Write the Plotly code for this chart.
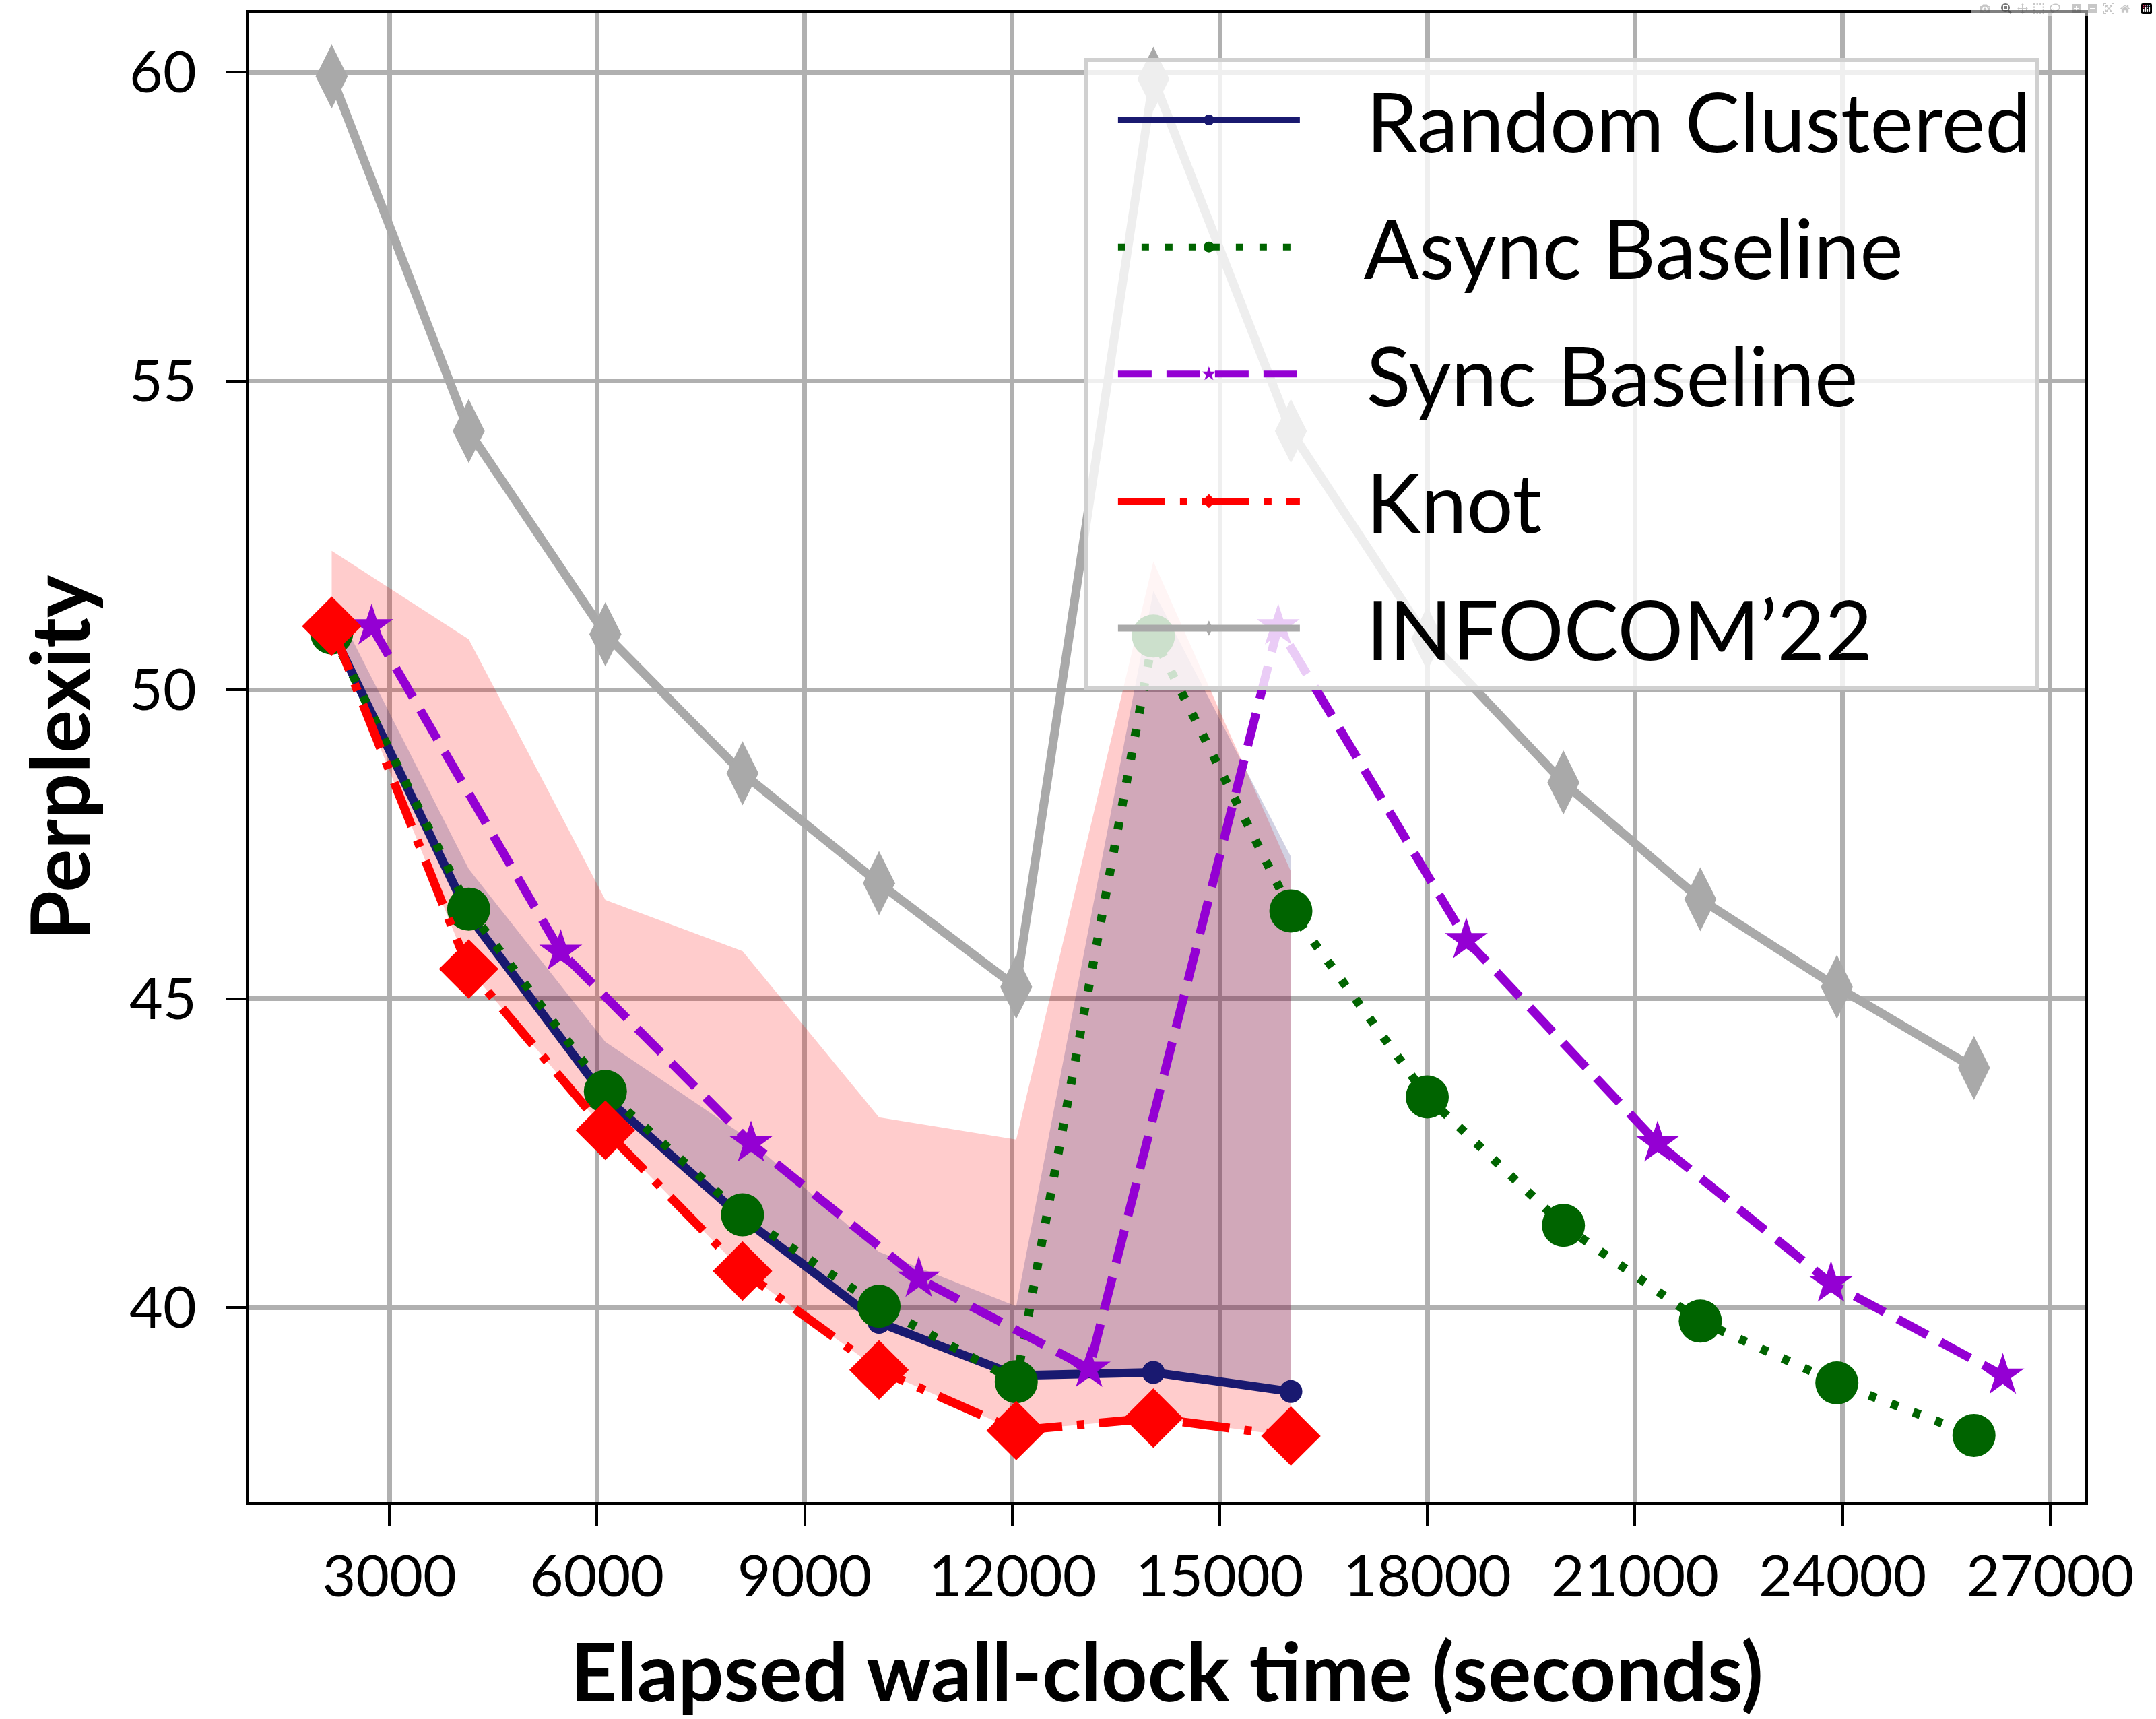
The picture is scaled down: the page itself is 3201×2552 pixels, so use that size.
import plotly.graph_objects as go

# ---------------- data ----------------
time_main = [2165, 4145, 6120, 8102, 10075, 12058, 14040, 16027, 17998, 19966, 21944, 23918, 25899]
time_sync = [2742, 5475, 8225, 10649, 13111, 15844, 18562, 21326, 23833, 26316]
time_short = time_main[:8]

random_clustered = [50.96, 46.35, 43.40, 41.45, 39.76, 38.90, 38.95, 38.64]
rc_upper = [51.47, 47.10, 44.30, 42.80, 40.90, 40.02, 51.60, 47.30]

async_baseline = [50.92, 46.45, 43.50, 41.50, 40.02, 38.80, 50.87, 46.42, 43.41, 41.33, 39.78, 38.78, 37.93]

sync_baseline = [51.03, 45.76, 42.66, 40.47, 39.01, 51.03, 45.95, 42.66, 40.39, 38.90]

knot = [51.03, 45.48, 42.87, 40.59, 38.99, 38.01, 38.21, 37.92]
knot_upper = [52.25, 50.82, 46.60, 45.77, 43.08, 42.72, 52.08, 47.06]

infocom = [59.93, 54.19, 50.90, 48.65, 46.87, 45.19, 59.89, 54.19, 50.83, 48.50, 46.61, 45.19, 43.88]

x_ticks = [3000, 6000, 9000, 12000, 15000, 18000, 21000, 24000, 27000]
y_ticks = [40, 45, 50, 55, 60]

FONT = "Lato"
PAD = "\u00a0\u00a0\u00a0"

fig = go.Figure()

# shaded bands
fig.add_trace(go.Scatter(
    x=time_short + time_short[::-1], y=knot_upper + knot[::-1],
    fill="toself", fillcolor="rgba(255,0,0,0.2)", mode="lines",
    line=dict(width=0), showlegend=False, hoverinfo="skip"))
fig.add_trace(go.Scatter(
    x=time_short + time_short[::-1], y=rc_upper + random_clustered[::-1],
    fill="toself", fillcolor="rgba(25,25,112,0.2)", mode="lines",
    line=dict(width=0), showlegend=False, hoverinfo="skip"))

LW = 13
fig.add_trace(go.Scatter(
    x=time_short, y=random_clustered, name=PAD + "Random Clustered", mode="lines+markers",
    line=dict(color="#191970", width=LW),
    marker=dict(symbol="circle", size=34, color="#191970"), legendgroup="a"))
fig.add_trace(go.Scatter(
    x=time_main, y=async_baseline, name=PAD + "Async Baseline", mode="lines+markers",
    line=dict(color="#006400", width=LW, dash="11px,24px"),
    marker=dict(symbol="circle", size=64, color="#006400"), legendgroup="b"))
fig.add_trace(go.Scatter(
    x=time_sync, y=sync_baseline, name=PAD + "Sync Baseline", mode="lines+markers",
    line=dict(color="#9400D3", width=LW, dash="50px,22px"),
    marker=dict(symbol="star", size=48, color="#9400D3"), legendgroup="c"))
fig.add_trace(go.Scatter(
    x=time_short, y=knot, name=PAD + "Knot", mode="lines+markers",
    line=dict(color="#FF0000", width=LW, dash="70px,22px,11px,22px"),
    marker=dict(symbol="diamond", size=68, color="#FF0000"), legendgroup="d"))
fig.add_trace(go.Scatter(
    x=time_main, y=infocom, name=PAD + "INFOCOM\u201922", mode="lines+markers",
    line=dict(color="#A9A9A9", width=LW),
    marker=dict(symbol="diamond-tall", size=68, color="#A9A9A9"), legendgroup="e"))

axis_common = dict(
    showline=True, linecolor="black", linewidth=5, mirror=True,
    showgrid=True, gridcolor="#b0b0b0", gridwidth=7,
    ticks="outside", ticklen=30, tickwidth=4, tickcolor="black",
    tickfont=dict(family=FONT, size=86, color="black"),
    zeroline=False,
)

fig.update_xaxes(
    range=[973, 27498], tickmode="array", tickvals=x_ticks,
    ticktext=[str(v) for v in x_ticks], ticklabelstandoff=2,
    title=dict(text="Elapsed wall-clock time (seconds)", standoff=60,
               font=dict(family=FONT, size=120, color="black", weight="bold")),
    **axis_common)
fig.update_yaxes(
    range=[36.85, 60.95], tickmode="array", tickvals=y_ticks,
    ticktext=[str(v) for v in y_ticks], ticklabelstandoff=26,
    title=dict(text="Perplexity", standoff=20,
               font=dict(family=FONT, size=120, color="black", weight="bold")),
    **axis_common)

fig.update_layout(
    width=3201, height=2552, autosize=False,
    margin=dict(l=370, r=106, t=20, b=322),
    plot_bgcolor="white", paper_bgcolor="white",
    legend=dict(
        x=0.975, y=0.970, xanchor="right", yanchor="top",
        bgcolor="rgba(255,255,255,0.8)", bordercolor="#d0d0d0", borderwidth=6,
        font=dict(family=FONT, size=122, color="black"),
        itemwidth=270, tracegroupgap=27, traceorder="grouped",
        itemsizing="trace", indentation=40,
    ),
)

fig.write_html("out.html", post_script="document.body.style.margin='0';")
